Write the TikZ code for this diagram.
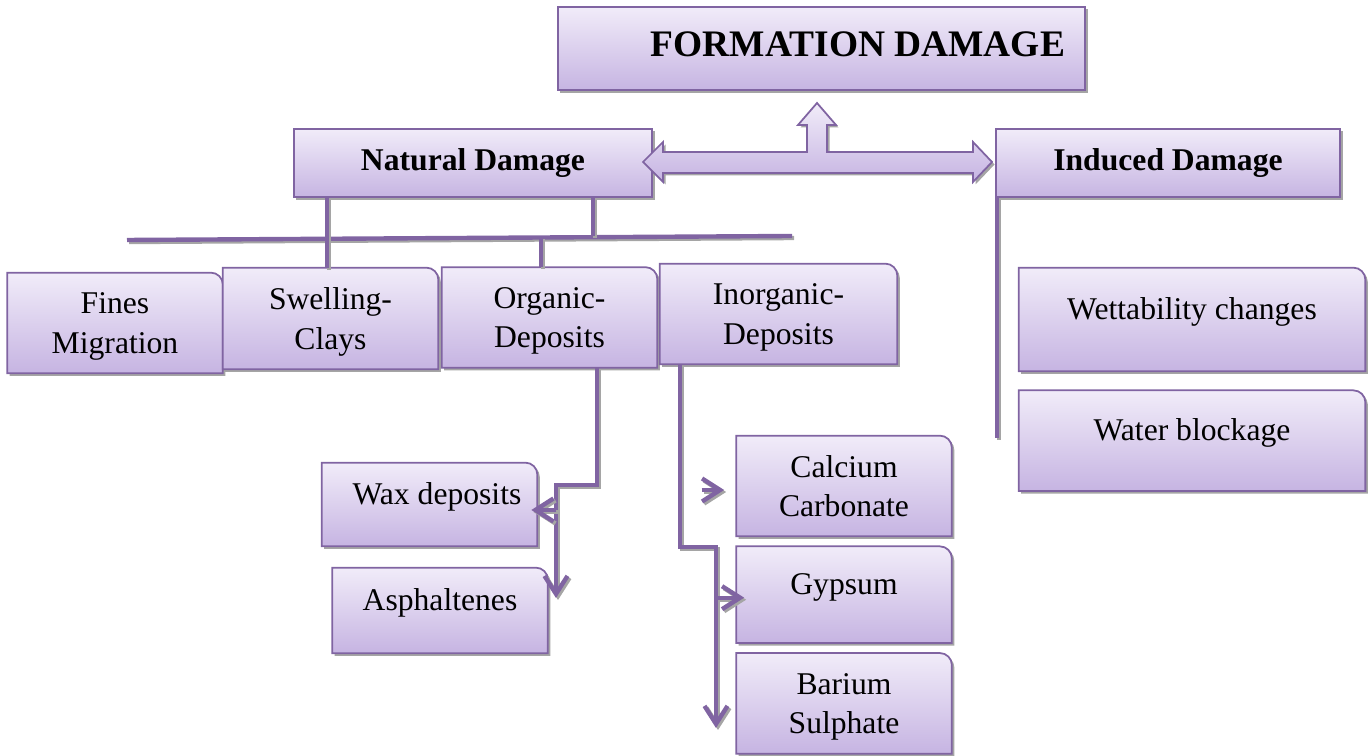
\documentclass[tikz,border=0pt]{standalone}
\usepackage{fontspec}
\setmainfont{Liberation Serif}
\usetikzlibrary{positioning,arrows.meta,backgrounds}
\definecolor{boxtop}{RGB}{241,236,249}
\definecolor{boxbot}{RGB}{198,180,226}
\definecolor{boxline}{RGB}{128,100,162}
\definecolor{shadowgray}{RGB}{165,165,165}

% box with one rounded corner (top right), drawn behind a named node
\newcommand{\tabpath}[1]{(#1.south west) -- (#1.north west) -- ([xshift=-0.24cm]#1.north east)
    arc[start angle=90, end angle=0, radius=0.24cm] -- (#1.south east) -- cycle}
\newcommand{\tabbox}[1]{%
  \fill[shadowgray, transform canvas={shift={(0.05cm,-0.05cm)}}] \tabpath{#1};
  \shade[boxshade] \tabpath{#1};}
\newcommand{\flatbox}[1]{%
  \fill[shadowgray, transform canvas={shift={(0.05cm,-0.05cm)}}] (#1.south west) rectangle (#1.north east);
  \shade[boxshade] (#1.south west) rectangle (#1.north east);}

\begin{document}
\begin{tikzpicture}[
    boxshade/.style={top color=boxtop, bottom color=boxbot, draw=boxline, line width=1pt},
    title/.style={minimum width=10.54cm, minimum height=1.66cm, inner sep=0pt, font=\fontsize{21.3}{25}\selectfont\bfseries},
    head/.style={minimum width=7.16cm, minimum height=1.36cm, inner sep=0pt, font=\fontsize{18}{22}\selectfont\bfseries},
    box/.style={minimum width=4.3cm, minimum height=2cm, inner sep=0pt, align=center, font=\fontsize{18}{22.3}\selectfont,
        text depth=0pt},
    single/.style={text height=0.45cm, text depth=0.46cm},
    link/.style={line width=2.5pt, draw=boxline, preaction={draw=shadowgray, line width=2.5pt, transform canvas={shift={(0.04cm,-0.04cm)}}}},
    arrow/.style={line width=2.5pt, draw=boxline, -{Straight Barb[length=0.36cm, width=0.46cm]},
        preaction={draw=shadowgray, line width=2.5pt, -{Straight Barb[length=0.36cm, width=0.46cm]}, transform canvas={shift={(0.04cm,-0.04cm)}}}}
]
    \useasboundingbox (0,0) rectangle (27.4,15.1);

    % Top
    \node[title] (formation) at (16.43,14.13) {\raisebox{0.17cm}{\hspace*{1.46cm}FORMATION DAMAGE}};
    \node[head] (natural) at (9.46,11.84) {Natural Damage};
    \node[head, minimum width=6.88cm] (induced) at (23.36,11.84) {Induced Damage};

    % Natural damage
    \node[box] (fines) at (2.30,8.64) {Fines\\Migration};
    \node[box, minimum height=2.02cm] (swelling) at (6.61,8.73) {Swelling-\\Clays};
    \node[box] (organic) at (10.99,8.75) {Organic-\\Deposits};
    \node[box, minimum width=4.74cm] (inorganic) at (15.57,8.82) {Inorganic-\\Deposits};

    % Organic
    \node[box, single, minimum height=1.66cm] (wax) at (8.59,5.01) {\hspace*{0.3cm}Wax deposits};
    \node[box, single, minimum height=1.70cm] (asphaltenes) at (8.80,2.89) {Asphaltenes};

    % Inorganic
    \node[box] (calcium) at (16.88,5.38) {Calcium\\Carbonate};
    \node[box, single, minimum height=1.92cm, below=0.2cm of calcium] (gypsum) {Gypsum};
    \node[box, below=0.2cm of gypsum] (barium) {Barium\\Sulphate};

    % Induced damage
    \node[box, single, minimum width=6.92cm, minimum height=2.06cm] (wettability) at (23.84,8.71) {Wettability changes};
    \node[box, single, minimum width=6.92cm, below=0.38cm of wettability] (water) {Water blockage};

    \begin{scope}[on background layer]
        \flatbox{formation}
        \flatbox{natural}
        \flatbox{induced}
        \foreach \n in {fines,swelling,organic,inorganic,wax,asphaltenes,calcium,gypsum,barium,wettability,water}
            {\tabbox{\n}}
    \end{scope}

    % Block arrow
    \fill[shadowgray, transform canvas={shift={(0.05cm,-0.05cm)}}]
        (12.86,11.86) -- (13.26,12.26) -- (13.26,12.06) -- (16.14,12.06) -- (16.14,12.60) -- (15.96,12.60)
        -- (16.34,13.04) -- (16.72,12.60) -- (16.54,12.60) -- (16.54,12.06) -- (19.46,12.06) -- (19.46,12.26)
        -- (19.84,11.86) -- (19.46,11.46) -- (19.46,11.64) -- (13.26,11.64) -- (13.26,11.46) -- cycle;
    \shade[boxshade]
        (12.86,11.86) -- (13.26,12.26) -- (13.26,12.06) -- (16.14,12.06) -- (16.14,12.60) -- (15.96,12.60)
        -- (16.34,13.04) -- (16.72,12.60) -- (16.54,12.60) -- (16.54,12.06) -- (19.46,12.06) -- (19.46,12.26)
        -- (19.84,11.86) -- (19.46,11.46) -- (19.46,11.64) -- (13.26,11.64) -- (13.26,11.46) -- cycle;

    % Tree lines
    \coordinate (barL) at (2.54,10.30);
    \coordinate (barR) at (15.84,10.38);
    \coordinate (nd2) at (11.86,10.37);
    \coordinate (nd3) at (10.82,10.36);
    \coordinate (indend) at (19.94,6.34);
    \draw[link] (barL) -- (barR);
    \draw[link] (natural.south -| 6.54,0) -- ([xshift=-0.07cm]swelling.north);
    \draw[link] (natural.south -| nd2) -- (nd2);
    \draw[link] (nd3) -- (organic.north -| nd3);
    \draw[link, line width=2pt] (induced.south -| indend) -- (indend);

    % Arrows
    \coordinate (ob1) at (11.12,5.40);
    \coordinate (ob2) at (11.12,3.14);
    \coordinate (waxtip) at ([xshift=-0.12cm,yshift=-0.11cm]wax.east);
    \draw[arrow] ([xshift=0.95cm]organic.south) |- (ob1) -- (ob2);
    \draw[arrow] (ob1 |- waxtip) -- (waxtip);

    \coordinate (ib1) at (14.32,4.16);
    \coordinate (ib2) at (14.32,0.54);
    \coordinate (caltip) at ([xshift=-0.24cm,yshift=-0.08cm]calcium.west);
    \coordinate (gyptip) at ([xshift=0.16cm,yshift=-0.06cm]gypsum.west);
    \draw[arrow] ([xshift=-1.97cm]inorganic.south) |- (ib1) -- (ib2);
    \draw[arrow] (ib1 |- gyptip) -- (gyptip);
    \draw[arrow] ([xshift=-0.45cm]caltip) -- (caltip);
\end{tikzpicture}
\end{document}
